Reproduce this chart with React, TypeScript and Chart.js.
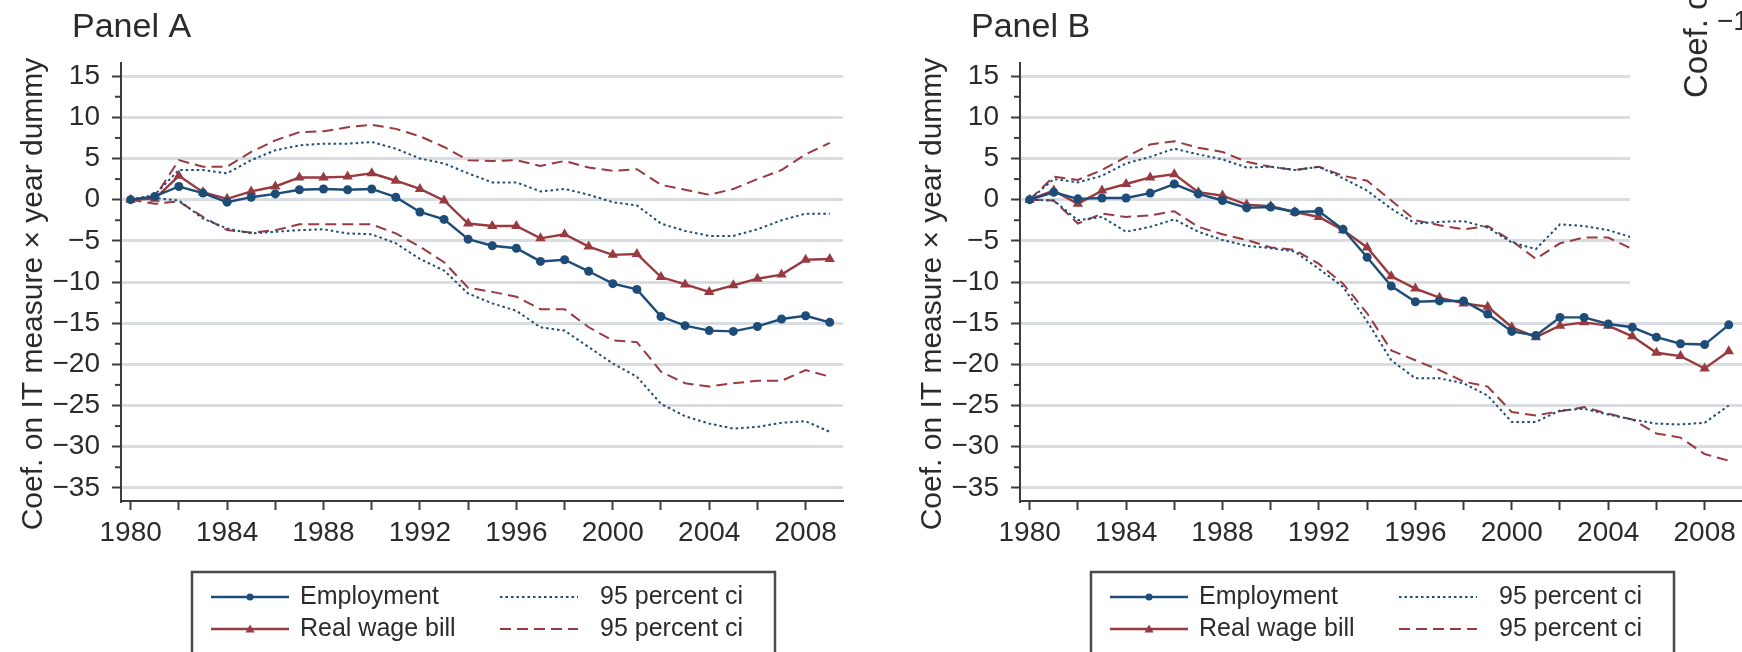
import React, { useEffect, useRef } from "react";
import { Chart, registerables } from "chart.js";

Chart.register(...registerables);

// ---------- data ----------
const years = [
  1980, 1981, 1982, 1983, 1984, 1985, 1986, 1987, 1988, 1989,
  1990, 1991, 1992, 1993, 1994, 1995, 1996, 1997, 1998, 1999,
  2000, 2001, 2002, 2003, 2004, 2005, 2006, 2007, 2008, 2009,
];

const xTickValues = [1980, 1982, 1984, 1986, 1988, 1990, 1992, 1994, 1996, 1998, 2000, 2002, 2004, 2006, 2008];
const xLabelValues = [1980, 1984, 1988, 1992, 1996, 2000, 2004, 2008];
const yTickValues = [15, 10, 5, 0, -5, -10, -15, -20, -25, -30, -35];
const yMinorTickValues = [12.5, 7.5, 2.5, -2.5, -7.5, -12.5, -17.5, -22.5, -27.5, -32.5];

const yAxisTitle = "Coef. on IT measure \u00d7 year dummy";
const legendLabels = ["Employment", "Real wage bill", "95 percent ci", "95 percent ci"];
const panelTitles = ["Panel A", "Panel B"];
const panelCAxisTitle = "Coef. on IT measure \u00d7 year dummy";
const panelCTickLabel = "\u221210";

// Panel A
const empA = [0, 0.4, 1.6, 0.8, -0.3, 0.3, 0.7, 1.2, 1.3, 1.2, 1.3, 0.3, -1.5, -2.4, -4.8, -5.6, -5.9, -7.5, -7.3, -8.7, -10.2, -10.9, -14.2, -15.3, -15.9, -16.0, -15.4, -14.5, -14.1, -14.9];
const empAHi = [0, 0.6, 3.6, 3.6, 3.2, 4.8, 6.0, 6.6, 6.8, 6.8, 7.0, 6.2, 5.0, 4.4, 3.2, 2.1, 2.1, 1.0, 1.3, 0.6, -0.3, -0.7, -2.9, -3.8, -4.4, -4.4, -3.6, -2.5, -1.7, -1.7];
const empALo = [0, 0.2, -0.1, -2.3, -3.5, -4.1, -3.9, -3.7, -3.6, -4.1, -4.2, -5.3, -7.2, -8.6, -11.4, -12.6, -13.5, -15.5, -15.9, -17.9, -19.9, -21.5, -24.8, -26.3, -27.2, -27.8, -27.6, -27.1, -26.9, -28.2];
const wageA = [0, 0.1, 2.9, 0.9, 0.1, 1.0, 1.6, 2.7, 2.7, 2.8, 3.2, 2.3, 1.3, -0.1, -2.9, -3.2, -3.2, -4.7, -4.2, -5.7, -6.7, -6.6, -9.4, -10.3, -11.2, -10.4, -9.6, -9.1, -7.3, -7.2];
const wageAHi = [0, 0.3, 4.8, 4.0, 4.0, 5.8, 7.2, 8.2, 8.3, 8.8, 9.1, 8.6, 7.7, 6.4, 4.8, 4.7, 4.8, 4.1, 4.7, 3.9, 3.5, 3.7, 1.8, 1.2, 0.6, 1.3, 2.5, 3.6, 5.5, 6.9];
const wageALo = [0, -0.5, -0.2, -2.1, -3.7, -4.0, -3.7, -3.0, -3.0, -3.0, -3.0, -4.1, -5.7, -7.6, -10.7, -11.2, -11.8, -13.3, -13.3, -15.5, -17.1, -17.3, -20.9, -22.3, -22.7, -22.3, -22.0, -22.0, -20.7, -21.5];

// Panel B
const empB = [0, 0.9, 0.1, 0.2, 0.2, 0.8, 1.9, 0.7, -0.1, -1.0, -0.9, -1.5, -1.4, -3.6, -7.0, -10.5, -12.4, -12.3, -12.3, -13.9, -16.0, -16.5, -14.3, -14.3, -15.1, -15.5, -16.7, -17.5, -17.6, -15.2];
const empBHi = [0, 2.5, 2.1, 2.9, 4.4, 5.2, 6.2, 5.5, 4.9, 3.9, 4.0, 3.6, 4.0, 2.6, 1.1, -1.1, -2.9, -2.7, -2.6, -3.4, -5.2, -6.0, -3.0, -3.2, -3.7, -4.6, null, null, null, null];
const empBLo = [0, -0.1, -2.5, -2.1, -3.9, -3.3, -2.4, -3.9, -4.9, -5.6, -5.9, -6.3, -8.4, -10.6, -14.8, -19.5, -21.7, -21.7, -22.3, -23.8, -27.0, -27.0, -25.6, -25.4, -26.1, -26.7, -27.2, -27.3, -27.1, -25.0];
const wageB = [0, 1.1, -0.5, 1.1, 1.9, 2.7, 3.1, 0.9, 0.5, -0.6, -0.8, -1.5, -2.1, -3.7, -5.8, -9.3, -10.8, -11.9, -12.6, -13.0, -15.5, -16.7, -15.3, -14.9, -15.3, -16.6, -18.6, -19.0, -20.5, -18.4];
const wageBHi = [0, 2.8, 2.4, 3.6, 5.2, 6.7, 7.1, 6.3, 5.8, 4.6, 4.0, 3.6, 4.0, 2.9, 2.3, -0.1, -2.5, -3.1, -3.6, -3.2, -5.0, -7.2, -5.3, -4.6, -4.6, -6.0, null, null, null, null];
const wageBLo = [0, -0.1, -2.9, -1.7, -2.1, -1.9, -1.4, -3.3, -4.2, -4.9, -5.8, -6.1, -7.8, -10.2, -13.8, -18.3, -19.5, -20.7, -22.1, -22.7, -25.8, -26.2, -25.7, -25.2, -26.0, -26.7, -28.4, -28.9, -30.9, -31.7];

// ---------- styles ----------
const FONT = "'Liberation Sans', Arial, Helvetica, sans-serif";
const NAVY = "#1d4c78";
const MAROON = "#983a40";
const GRID = "#d9dce0";
const AXIS = "#3c3c3c";
const TEXT = "#2b2b2b";
const DOT_DASH = [2.5, 3];
const LONG_DASH = [11, 6];

const W = 870;
const H = 652;

type Series = (number | null)[];

function pts(arr: Series) {
  return years.map((yr, i) => ({ x: yr, y: arr[i] }));
}

function fmtY(v: number) {
  return v < 0 ? "\u2212" + String(Math.abs(v)) : String(v);
}

function decorPlugin(title: string, withOverlay: boolean) {
  return {
    id: "decor",
    afterDraw(chart: any) {
      const ctx = chart.ctx as CanvasRenderingContext2D;
      const area = chart.chartArea;
      const ys = chart.scales.y;
      ctx.save();

      // panel title
      ctx.fillStyle = TEXT;
      ctx.font = `34px ${FONT}`;
      ctx.textAlign = "left";
      ctx.textBaseline = "alphabetic";
      ctx.fillText(title, 72, 37);

      // y-axis title
      ctx.save();
      ctx.translate(42, 294);
      ctx.rotate(-Math.PI / 2);
      ctx.textAlign = "center";
      ctx.textBaseline = "alphabetic";
      ctx.font = `30px ${FONT}`;
      ctx.fillText(yAxisTitle, 0, 0);
      ctx.restore();

      // minor y ticks
      ctx.strokeStyle = AXIS;
      ctx.lineWidth = 2;
      for (const v of yMinorTickValues) {
        const py = ys.getPixelForValue(v);
        ctx.beginPath();
        ctx.moveTo(area.left - 6, py);
        ctx.lineTo(area.left, py);
        ctx.stroke();
      }

      // legend
      const bx = 192, by = 572, bw = 583, bh = 120;
      ctx.strokeStyle = "#4a4a4a";
      ctx.lineWidth = 2.5;
      ctx.strokeRect(bx, by, bw, bh);
      const rows = [597, 629];
      const drawSample = (x0: number, x1: number, y: number, color: string, dash: number[], marker: string | null) => {
        ctx.save();
        ctx.strokeStyle = color;
        ctx.lineWidth = dash.length ? 2 : 2.4;
        ctx.setLineDash(dash);
        ctx.beginPath();
        ctx.moveTo(x0, y);
        ctx.lineTo(x1, y);
        ctx.stroke();
        ctx.setLineDash([]);
        ctx.fillStyle = color;
        const mx = (x0 + x1) / 2;
        if (marker === "circle") {
          ctx.beginPath();
          ctx.arc(mx, y, 3.5, 0, Math.PI * 2);
          ctx.fill();
        } else if (marker === "triangle") {
          ctx.beginPath();
          ctx.moveTo(mx, y - 4.5);
          ctx.lineTo(mx + 4.5, y + 3.5);
          ctx.lineTo(mx - 4.5, y + 3.5);
          ctx.closePath();
          ctx.fill();
        }
        ctx.restore();
      };
      drawSample(211, 289, rows[0], NAVY, [], "circle");
      drawSample(211, 289, rows[1], MAROON, [], "triangle");
      drawSample(500, 578, rows[0], NAVY, DOT_DASH, null);
      drawSample(500, 578, rows[1], MAROON, LONG_DASH, null);
      ctx.fillStyle = TEXT;
      ctx.font = `25px ${FONT}`;
      ctx.textAlign = "left";
      ctx.textBaseline = "middle";
      ctx.fillText(legendLabels[0], 300, rows[0]);
      ctx.fillText(legendLabels[1], 300, rows[1]);
      ctx.fillText(legendLabels[2], 600, rows[0]);
      ctx.fillText(legendLabels[3], 600, rows[1]);

      // overlapping neighbour panel (cut off at the right edge)
      if (withOverlay) {
        ctx.fillStyle = "#ffffff";
        ctx.fillRect(731, 0, W - 731, 300);
        ctx.fillStyle = TEXT;
        ctx.save();
        ctx.translate(808, 98);
        ctx.rotate(-Math.PI / 2);
        ctx.textAlign = "left";
        ctx.textBaseline = "alphabetic";
        ctx.font = `33px ${FONT}`;
        ctx.fillText(panelCAxisTitle, 0, 0);
        ctx.restore();
        ctx.font = `28px ${FONT}`;
        ctx.textAlign = "left";
        ctx.textBaseline = "middle";
        ctx.fillText(panelCTickLabel, 818, 22);
      }
      ctx.restore();
    },
  };
}

function makeConfig(title: string, emp: Series, empLo: Series, empHi: Series, wage: Series, wageLo: Series, wageHi: Series, withOverlay: boolean): any {
  const lineBase = { tension: 0, spanGaps: false, pointRadius: 0, borderWidth: 2 };
  return {
    type: "line",
    data: {
      datasets: [
        {
          label: legendLabels[0], data: pts(emp), borderColor: NAVY, backgroundColor: NAVY,
          borderWidth: 2.4, pointStyle: "circle", pointRadius: 4.5, pointBorderWidth: 0, tension: 0,
        },
        {
          label: legendLabels[1], data: pts(wage), borderColor: MAROON, backgroundColor: MAROON,
          borderWidth: 2.4, pointStyle: "triangle", pointRadius: 6, pointBorderWidth: 0, tension: 0,
        },
        { ...lineBase, label: legendLabels[2], data: pts(empHi), borderColor: NAVY, borderDash: DOT_DASH },
        { ...lineBase, label: legendLabels[2], data: pts(empLo), borderColor: NAVY, borderDash: DOT_DASH },
        { ...lineBase, label: legendLabels[3], data: pts(wageHi), borderColor: MAROON, borderDash: LONG_DASH },
        { ...lineBase, label: legendLabels[3], data: pts(wageLo), borderColor: MAROON, borderDash: LONG_DASH },
      ],
    },
    options: {
      animation: false,
      responsive: false,
      devicePixelRatio: 1,
      layout: { padding: { top: 63, left: 0, right: 27, bottom: 0 } },
      plugins: { legend: { display: false }, tooltip: { enabled: false }, title: { display: false } },
      scales: {
        x: {
          type: "linear",
          min: 1979.6,
          max: 2009.55,
          afterBuildTicks: (s: any) => { s.ticks = xTickValues.map((v) => ({ value: v })); },
          afterFit: (s: any) => { s.height = 151; },
          grid: { drawOnChartArea: false, drawTicks: true, tickLength: 9, tickColor: AXIS, tickWidth: 2 },
          border: { display: true, color: AXIS, width: 2 },
          ticks: {
            autoSkip: false, maxRotation: 0, minRotation: 0, padding: 6, color: TEXT,
            font: { family: FONT, size: 28 },
            callback: (v: number) => (xLabelValues.includes(v) ? String(v) : ""),
          },
        },
        y: {
          type: "linear",
          min: -36.6,
          max: 16.6,
          afterBuildTicks: (s: any) => { s.ticks = yTickValues.map((v) => ({ value: v })); },
          afterFit: (s: any) => { s.width = 121; },
          grid: { color: GRID, lineWidth: 3, drawTicks: true, tickLength: 9, tickColor: AXIS, tickWidth: 2 },
          border: { display: true, color: AXIS, width: 2 },
          ticks: {
            padding: 12, color: TEXT, font: { family: FONT, size: 28 },
            callback: (v: number) => fmtY(v),
          },
        },
      },
    },
    plugins: [decorPlugin(title, withOverlay)],
  };
}

function Panel(props: { left: number; config: () => any }) {
  const ref = useRef<HTMLCanvasElement | null>(null);
  useEffect(() => {
    if (!ref.current) return;
    const chart = new Chart(ref.current, props.config());
    return () => chart.destroy();
  }, []);
  return (
    <canvas
      ref={ref}
      width={W}
      height={H}
      style={{ position: "absolute", left: props.left, top: 0, width: W, height: H }}
    />
  );
}

export default function App() {
  return (
    <div
      style={{
        position: "absolute", left: 0, top: 0, width: 1742, height: 652,
        overflow: "hidden", background: "#ffffff",
      }}
    >
      <Panel left={0} config={() => makeConfig(panelTitles[0], empA, empALo, empAHi, wageA, wageALo, wageAHi, false)} />
      <Panel left={899} config={() => makeConfig(panelTitles[1], empB, empBLo, empBHi, wageB, wageBLo, wageBHi, true)} />
    </div>
  );
}
